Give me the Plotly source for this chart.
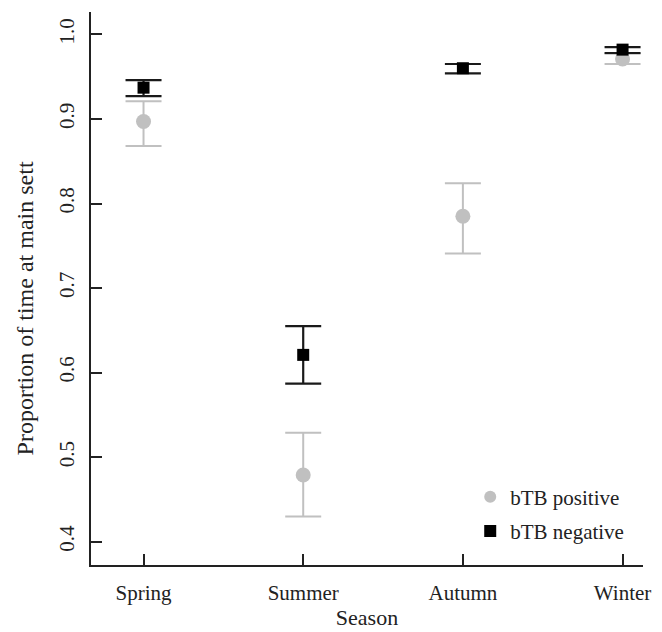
import plotly.graph_objects as go

seasons = ["Spring", "Summer", "Autumn", "Winter"]
pos_mean = [0.897, 0.479, 0.785, 0.971]
pos_lo = [0.868, 0.430, 0.741, 0.965]
pos_hi = [0.921, 0.529, 0.824, 0.977]
neg_mean = [0.937, 0.621, 0.960, 0.982]
neg_lo = [0.927, 0.587, 0.954, 0.978]
neg_hi = [0.946, 0.655, 0.965, 0.985]

x = list(range(len(seasons)))
font = "Liberation Serif, Times New Roman, serif"

fig = go.Figure()
fig.add_trace(go.Scatter(
    x=x, y=pos_mean, mode="markers", name="bTB positive", legendgroup="p",
    marker=dict(symbol="circle", size=15, color="#c0c0c0"),
    error_y=dict(type="data", symmetric=False,
                 array=[h - m for h, m in zip(pos_hi, pos_mean)],
                 arrayminus=[m - l for m, l in zip(pos_mean, pos_lo)],
                 color="#c0c0c0", thickness=2, width=18),
))
fig.add_trace(go.Scatter(
    x=x, y=neg_mean, mode="markers", name="bTB negative", legendgroup="n",
    marker=dict(symbol="square", size=12, color="black"),
    error_y=dict(type="data", symmetric=False,
                 array=[h - m for h, m in zip(neg_hi, neg_mean)],
                 arrayminus=[m - l for m, l in zip(neg_mean, neg_lo)],
                 color="#1a1a1a", thickness=2.2, width=18),
))

fig.update_layout(
    width=654, height=624,
    margin=dict(l=83, r=19, t=4, b=67),
    plot_bgcolor="white", paper_bgcolor="white",
    font=dict(family=font, size=21, color="#222222"),
    legend=dict(x=0.687, y=0.16, xanchor="left", yanchor="top",
                bgcolor="rgba(0,0,0,0)", font=dict(size=21, family=font),
                itemsizing="constant", tracegroupgap=4),
    showlegend=True,
    annotations=[dict(
        text="Proportion of time at main sett", textangle=-90,
        xref="paper", yref="paper", x=0, y=0.464, xshift=-66,
        xanchor="center", yanchor="middle", showarrow=False,
        font=dict(size=24, family=font, color="#222222"),
    )],
)
fig.update_xaxes(
    range=[-0.329, 3.128], tickvals=x, ticktext=seasons,
    showline=True, linecolor="#222222", linewidth=1.6,
    ticks="inside", ticklen=11, tickwidth=1.5, tickcolor="#222222",
    ticklabelstandoff=8,
    showgrid=False, zeroline=False, automargin=False,
    title=dict(text="Season", font=dict(size=22, family=font), standoff=4),
)
fig.update_yaxes(
    range=[0.3725, 1.0265], tickvals=[0.4, 0.5, 0.6, 0.7, 0.8, 0.9, 1.0],
    ticktext=["0.4", "0.5", "0.6", "0.7", "0.8", "0.9", "1.0"],
    tickangle=-90,
    showline=True, linecolor="#222222", linewidth=1.6,
    ticks="inside", ticklen=11, tickwidth=1.5, tickcolor="#222222",
    ticklabelstandoff=7,
    showgrid=False, zeroline=False, automargin=False,
)

fig.write_html("out.html")
